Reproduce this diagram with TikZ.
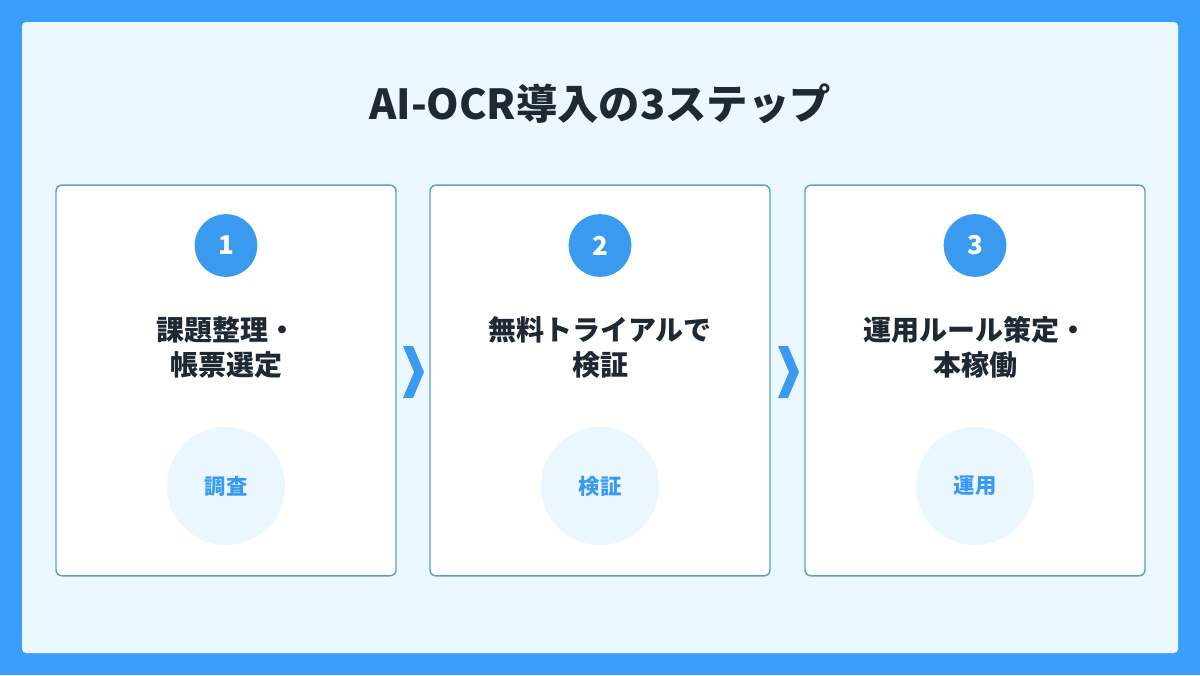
\documentclass[tikz,border=0pt]{standalone}
\usepackage{fontspec}
\setmainfont{Noto Sans CJK JP}
\definecolor{outerblue}{HTML}{3A9EFF}
\definecolor{panel}{HTML}{EBF8FF}
\definecolor{cardline}{HTML}{5B9FCF}
\definecolor{numblue}{HTML}{3A9AF0}
\definecolor{dark}{HTML}{1F2933}
\definecolor{soft}{HTML}{EAF7FF}
\begin{document}
\begin{tikzpicture}[x=0.75pt,y=-0.75pt,
  card/.style={draw=cardline, line width=1.1pt, fill=white, rounded corners=4.5pt,
    minimum width=255pt, minimum height=293pt, inner sep=0pt},
  num/.style={circle, fill=numblue, minimum size=47pt, inner sep=0pt, text=white,
    font=\bfseries\fontsize{19.5}{20}\selectfont},
  steptitle/.style={align=center, text=dark, inner sep=0pt,
    font=\bfseries\fontsize{21}{26}\selectfont},
  badge/.style={circle, fill=soft, minimum size=88.5pt, inner sep=0pt, text=numblue,
    font=\bfseries\fontsize{16}{17}\selectfont},
  chev/.style={fill=numblue}
]
\useasboundingbox (0,0) rectangle (1200,675);
\fill[outerblue] (0,0) rectangle (1200,675);
\fill[panel, rounded corners=3pt] (22,22) rectangle (1178,653);
\node[text=dark, font=\bfseries\fontsize{31}{34}\selectfont, inner sep=0pt] (title) at (600,104) {AI-OCR導入の3ステップ};

\node[card] (c1) at (226,380.5) {};
\node[card] (c2) at (600,380.5) {};
\node[card] (c3) at (975,380.5) {};

\node[num] (n1) at (226,245.5) {1};
\node[num] (n2) at (600,245.5) {2};
\node[num] (n3) at (975,245.5) {3};

\node[steptitle] (t1) at (226,347.5) {課題整理・\\帳票選定};
\node[steptitle] (t2) at (600,347.5) {無料トライアルで\\検証};
\node[steptitle] (t3) at (975,347.5) {運用ルール策定・\\本稼働};

\node[badge] (b1) at (226,486) {調査};
\node[badge] (b2) at (600,486) {検証};
\node[badge] (b3) at (975,486) {運用};

\coordinate (k1) at (413,372);
\coordinate (k2) at (788,372);
\foreach \k in {k1,k2}{
  \fill[chev] ([shift={(-10,-26)}]\k) -- ([shift={(0,-26)}]\k) -- ([shift={(11,0)}]\k)
    -- ([shift={(0,26)}]\k) -- ([shift={(-10,26)}]\k) -- ([shift={(1,0)}]\k) -- cycle;
}
\end{tikzpicture}
\end{document}
